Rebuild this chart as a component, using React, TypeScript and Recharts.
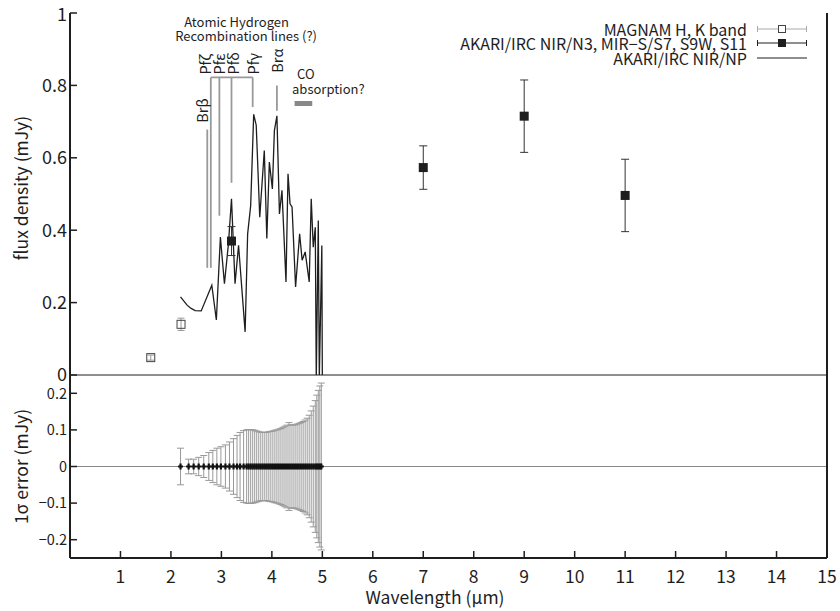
import React from 'react';
import {
  ComposedChart, Line, Scatter, XAxis, YAxis, ErrorBar,
  ReferenceLine, ReferenceDot, Legend,
} from 'recharts';

const FONT = '"Noto Sans CJK JP", "Noto Sans", sans-serif';
const INK = '#1e1e1e';
const GREY = '#999';

// axis ticks
const waveTicks = [1, 2, 3, 4, 5, 6, 7, 8, 9, 10, 11, 12, 13, 14, 15];
const fluxTicks = [0, 0.2, 0.4, 0.6, 0.8, 1];
const sigmaTicks = [-0.2, -0.1, 0, 0.1, 0.2];

// MAGNAM H, K band
const magnamWave = [1.6, 2.2];
const magnamFlux = [0.048, 0.14];
const magnamErr = [0.007, 0.017];

// AKARI/IRC NIR/N3, MIR-S/S7, S9W, S11
const akariWave = [3.2, 7, 9, 11];
const akariFlux = [0.37, 0.573, 0.715, 0.496];
const akariErr = [0.04, 0.06, 0.1, 0.1];

// AKARI/IRC NIR/NP spectrum
const npWave = [2.19, 2.32, 2.40, 2.48, 2.60, 2.81, 2.90, 2.98, 3.06, 3.14, 3.20, 3.27, 3.34, 3.47, 3.52,
  3.58, 3.64, 3.69, 3.76, 3.85, 3.90, 3.95, 4.01, 4.05, 4.10, 4.15, 4.20, 4.28, 4.32, 4.36,
  4.40, 4.47, 4.55, 4.60, 4.66, 4.74, 4.78, 4.82, 4.86, 4.88, 4.92, 4.94, 4.99, 5.00];
const npFlux = [0.216, 0.193, 0.184, 0.178, 0.177, 0.248, 0.152, 0.381, 0.252, 0.363, 0.487, 0.252, 0.358, 0.119, 0.39,
  0.468, 0.72, 0.69, 0.436, 0.62, 0.377, 0.588, 0.514, 0.675, 0.716, 0.445, 0.51, 0.257, 0.556, 0.473,
  0.464, 0.243, 0.39, 0.317, 0.34, 0.257, 0.487, 0.353, 0.408, -0.01, 0.427, -0.01, 0.358, -0.01];

// 1 sigma error of the spectrum
const sigWave = [2.19, 2.35, 2.45, 2.55, 2.65, 2.75, 2.83, 2.91, 2.99, 3.08, 3.16, 3.24, 3.31, 3.37, 3.44,
  3.50, 3.54, 3.58, 3.62, 3.66, 3.70, 3.74, 3.78, 3.82, 3.86, 3.90, 3.94, 3.98, 4.02, 4.06,
  4.10, 4.14, 4.18, 4.22, 4.26, 4.30, 4.34, 4.38, 4.42, 4.46, 4.50, 4.54, 4.58, 4.62, 4.66,
  4.70, 4.74, 4.78, 4.82, 4.86, 4.89, 4.92, 4.95, 4.98];
const sigErr = [0.05, 0.02, 0.02, 0.025, 0.03, 0.038, 0.044, 0.05, 0.054, 0.059, 0.067, 0.076, 0.085, 0.093, 0.098,
  0.1, 0.101, 0.101, 0.1, 0.099, 0.097, 0.095, 0.094, 0.093, 0.093, 0.094, 0.095, 0.096, 0.097, 0.099,
  0.1, 0.102, 0.104, 0.107, 0.11, 0.113, 0.12, 0.114, 0.113, 0.114, 0.116, 0.118, 0.12, 0.123, 0.127,
  0.132, 0.14, 0.152, 0.165, 0.18, 0.195, 0.208, 0.22, 0.228];

const magnam = magnamWave.map((x, i) => ({ x, y: magnamFlux[i], err: magnamErr[i] }));
const akari = akariWave.map((x, i) => ({ x, y: akariFlux[i], err: akariErr[i] }));
const spectrum = npWave.map((x, i) => ({ x, y: npFlux[i] }));
const sigma = sigWave.map((x, i) => ({ x, y: 0, err: sigErr[i] }));

// recombination line markers (wavelength, top, bottom)
const lineMarks = [
  { x1: 2.72, x2: 2.72, y1: 0.678, y2: 0.296 },
  { x1: 2.79, x2: 2.79, y1: 0.822, y2: 0.296 },
  { x1: 2.96, x2: 2.96, y1: 0.822, y2: 0.44 },
  { x1: 3.2, x2: 3.2, y1: 0.822, y2: 0.531 },
  { x1: 3.62, x2: 3.62, y1: 0.822, y2: 0.74 },
  { x1: 2.79, x2: 3.62, y1: 0.822, y2: 0.822 },
  { x1: 4.1, x2: 4.1, y1: 0.8, y2: 0.73 },
];

const notes = [
  { x: 2.615, y: 0.697, text: 'Brβ', rot: true, size: 14.5, anchor: 'start' },
  { x: 2.675, y: 0.83, text: 'Pfζ', rot: true, size: 14.5, anchor: 'start' },
  { x: 2.95, y: 0.83, text: 'Pfε', rot: true, size: 14.5, anchor: 'start' },
  { x: 3.23, y: 0.83, text: 'Pfδ', rot: true, size: 14.5, anchor: 'start' },
  { x: 3.61, y: 0.83, text: 'Pfγ', rot: true, size: 14.5, anchor: 'start' },
  { x: 4.1, y: 0.835, text: 'Brα', rot: true, size: 14.5, anchor: 'start' },
  { x: 3.3, y: 0.961, text: 'Atomic Hydrogen', rot: false, size: 13, anchor: 'middle' },
  { x: 3.49, y: 0.923, text: 'Recombination lines (?)', rot: false, size: 13, anchor: 'middle' },
  { x: 4.5, y: 0.818, text: 'CO', rot: false, size: 13, anchor: 'start' },
  { x: 4.4, y: 0.777, text: 'absorption?', rot: false, size: 13, anchor: 'start' },
];

const fmt = (v: number) => (v < 0 ? '\u2212' + String(-v) : String(v));

const TopTick = (p: any) => (
  <line x1={p.x} x2={p.x} y1={p.y} y2={p.y + 7} stroke={INK} strokeWidth={1.5} />
);

const BottomTick = (p: any) => (
  <g>
    <line x1={p.x} x2={p.x} y1={p.y} y2={p.y - 7} stroke={INK} strokeWidth={1.5} />
    <text x={p.x} y={p.y + 25} textAnchor="middle" fontSize={17.5} fontFamily={FONT} fill={INK}>
      {p.payload.value}
    </text>
  </g>
);

const makeYTick = (size: number) => (p: any) => (
  <g>
    <line x1={p.x} x2={p.x + 7} y1={p.y} y2={p.y} stroke={INK} strokeWidth={1.5} />
    <text x={p.x - 3} y={p.y} dy={p.payload.value === 1 ? '0.45em' : '0.36em'} textAnchor="end" fontSize={size}
      fontFamily={FONT} fill={INK}>
      {fmt(p.payload.value)}
    </text>
  </g>
);

const vLabel = (text: string, shift: number) => (p: any) => {
  const vb = p.viewBox;
  const cx = 20;
  const cy = vb.y + vb.height / 2 + shift;
  return (
    <text x={cx} y={cy} transform={`rotate(-90 ${cx} ${cy})`} textAnchor="middle" dominantBaseline="central"
      fontSize={17.5} fontFamily={FONT} fill={INK}>
      {text}
    </text>
  );
};

const noteLabel = (n: any) => (p: any) => {
  const { x, y } = p.viewBox;
  return (
    <text x={x} y={y} transform={n.rot ? `rotate(-90 ${x} ${y})` : undefined} textAnchor={n.anchor}
      dominantBaseline={n.rot ? 'central' : 'auto'} fontSize={n.size} fontFamily={FONT} fill={INK}>
      {n.text}
    </text>
  );
};

const OpenSquare = (p: any) => (
  <rect x={p.cx - 4} y={p.cy - 4} width={8} height={8} fill="none" stroke="#444" strokeWidth={1} />
);
const FilledSquare = (p: any) => (
  <rect x={p.cx - 4.5} y={p.cy - 4.5} width={9} height={9} fill={INK} />
);
const ZeroMark = (p: any) => (
  <path d={`M${p.cx - 2.5},${p.cy} H${p.cx + 2.5} M${p.cx},${p.cy - 3} V${p.cy + 3}`} stroke="#111" strokeWidth={2.2} />
);

const LegendBox = () => {
  const row = { display: 'flex', justifyContent: 'flex-end', alignItems: 'center', height: 14.5 } as const;
  const txt = { fontFamily: FONT, fontSize: 16, lineHeight: '14.5px', color: INK, whiteSpace: 'nowrap' } as const;
  return (
    <div style={{ width: 807 }}>
      <div style={row}>
        <span style={txt}>MAGNAM H, K band</span>
        <svg width={50} height={14} style={{ marginLeft: 10 }}>
          <line x1={0} x2={50} y1={7} y2={7} stroke="#aaa" />
          <line x1={0.5} x2={0.5} y1={4} y2={10} stroke="#aaa" />
          <line x1={49.5} x2={49.5} y1={4} y2={10} stroke="#aaa" />
          <rect x={21.5} y={3.5} width={7} height={7} fill="#fff" stroke="#444" />
        </svg>
      </div>
      <div style={row}>
        <span style={txt}>AKARI/IRC NIR/N3, MIR−S/S7, S9W, S11</span>
        <svg width={50} height={14} style={{ marginLeft: 10 }}>
          <line x1={0} x2={50} y1={7} y2={7} stroke={INK} />
          <line x1={0.5} x2={0.5} y1={4} y2={10} stroke={INK} />
          <line x1={49.5} x2={49.5} y1={4} y2={10} stroke={INK} />
          <rect x={21} y={3} width={8} height={8} fill={INK} />
        </svg>
      </div>
      <div style={row}>
        <span style={txt}>AKARI/IRC NIR/NP</span>
        <svg width={50} height={14} style={{ marginLeft: 10 }}>
          <line x1={0} x2={50} y1={7} y2={7} stroke={INK} />
        </svg>
      </div>
    </div>
  );
};

const W = 840;
const H = 611;

export default function App() {
  return (
    <div style={{ position: 'absolute', left: 0, top: 0, width: W, height: H, background: '#fff' }}>
      {/* flux density panel */}
      <div style={{ position: 'absolute', left: 0, top: 0 }}>
        <ComposedChart width={W} height={H} margin={{ top: 13, right: 13, bottom: 236, left: 30 }}>
          <XAxis xAxisId="t" orientation="top" type="number" dataKey="x" domain={[0, 15]} ticks={waveTicks}
            height={0} tickSize={0} tickMargin={0} tickLine={false} tick={TopTick}
            axisLine={{ stroke: INK, strokeWidth: 2 }} allowDataOverflow />
          <YAxis type="number" dataKey="y" domain={[0, 1]} ticks={fluxTicks} width={40} tickSize={0}
            tickMargin={0} tickLine={false} tick={makeYTick(18)} axisLine={{ stroke: INK, strokeWidth: 2 }}
            allowDataOverflow label={vLabel('flux density (mJy)', -6)} />
          <ReferenceLine xAxisId="t" y={0} stroke={INK} strokeWidth={1} />
          <ReferenceLine xAxisId="t" x={15} stroke={INK} strokeWidth={2} />
          {lineMarks.map((s, i) => (
            <ReferenceLine key={`m${i}`} xAxisId="t" stroke={GREY} strokeWidth={1.8} ifOverflow="visible"
              segment={[{ x: s.x1, y: s.y1 }, { x: s.x2, y: s.y2 }]} />
          ))}
          <ReferenceLine xAxisId="t" stroke="#888" strokeWidth={5} ifOverflow="visible"
            segment={[{ x: 4.45, y: 0.75 }, { x: 4.8, y: 0.75 }]} />
          {notes.map((n, i) => (
            <ReferenceDot key={`n${i}`} xAxisId="t" x={n.x} y={n.y} r={0} fill="none" stroke="none"
              ifOverflow="visible" label={noteLabel(n)} />
          ))}
          <Line xAxisId="t" data={spectrum} dataKey="y" type="linear" stroke={INK} strokeWidth={1.3}
            dot={false} isAnimationActive={false} />
          <Scatter xAxisId="t" data={magnam} dataKey="y" shape={OpenSquare} isAnimationActive={false}>
            <ErrorBar dataKey="err" direction="y" width={3.5} stroke={GREY} strokeWidth={1} isAnimationActive={false} />
          </Scatter>
          <Scatter xAxisId="t" data={akari} dataKey="y" shape={FilledSquare} isAnimationActive={false}>
            <ErrorBar dataKey="err" direction="y" width={4} stroke="#333" strokeWidth={1} isAnimationActive={false} />
          </Scatter>
          <Legend layout="horizontal" verticalAlign="middle" align="center" content={() => <LegendBox />}
            wrapperStyle={{ position: 'absolute', left: 0, top: 21.5, width: 807 }} />
        </ComposedChart>
      </div>
      {/* 1 sigma error panel */}
      <div style={{ position: 'absolute', left: 0, top: 0 }}>
        <ComposedChart width={W} height={H} margin={{ top: 375, right: 13, bottom: 8, left: 30 }}>
          <XAxis type="number" dataKey="x" domain={[0, 15]} ticks={waveTicks} height={45} tickSize={0}
            tickMargin={0} tickLine={false} tick={BottomTick} axisLine={{ stroke: INK, strokeWidth: 2 }}
            allowDataOverflow
            label={(p: any) => (
              <text x={435} y={p.viewBox.y + 46} textAnchor="middle" fontSize={17.5} fontFamily={FONT} fill={INK}>
                Wavelength (μm)
              </text>
            )} />
          <YAxis type="number" dataKey="y" domain={[-0.25, 0.25]} ticks={sigmaTicks} width={40} tickSize={0}
            tickMargin={0} tickLine={false} tick={makeYTick(14.5)} axisLine={{ stroke: INK, strokeWidth: 2 }}
            allowDataOverflow label={vLabel('1σ error (mJy)', 0)} />
          <ReferenceLine y={0} stroke="#888" strokeWidth={1} />
          <ReferenceLine x={15} stroke={INK} strokeWidth={2} />
          <Scatter data={sigma} dataKey="y" shape={ZeroMark} isAnimationActive={false}>
            <ErrorBar dataKey="err" direction="y" width={3.5} stroke={GREY} strokeWidth={1} isAnimationActive={false} />
          </Scatter>
        </ComposedChart>
      </div>
    </div>
  );
}
